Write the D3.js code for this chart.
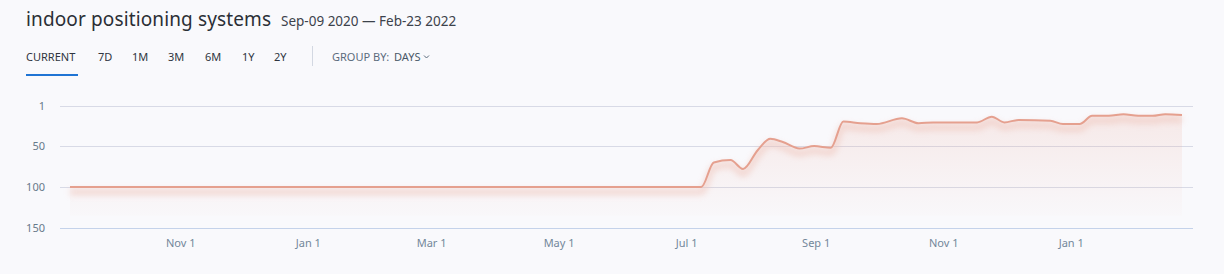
<!DOCTYPE html>
<html>
<head>
<meta charset="utf-8">
<style>
  body {
    margin: 0;
    background: #f9f9fc;
    font-family: "Noto Sans", sans-serif;
  }
  svg { display: block }
</style>
<script type="text/javascript" src="https://d3js.org/d3.v7.min.js"></script>
</head>
<body>
<svg id="chart"></svg>
<script type="text/javascript">
let width = 1224,
    height = 274

let title = 'indoor positioning systems'
let dateRange = 'Sep-09 2020 \u2014 Feb-23 2022'
let tabs = ['CURRENT', '7D', '1M', '3M', '6M', '1Y', '2Y']

// rank position per day (lower = better)
let dates = ['2020-09-09', '2021-07-08', '2021-07-14', '2021-07-22', '2021-07-28', '2021-08-04',
  '2021-08-10', '2021-08-16', '2021-08-24', '2021-08-31', '2021-09-08', '2021-09-14',
  '2021-09-22', '2021-09-30', '2021-10-12', '2021-10-20', '2021-10-27', '2021-11-17',
  '2021-11-24', '2021-11-30', '2021-12-07', '2021-12-22', '2021-12-28', '2022-01-05',
  '2022-01-11', '2022-01-19', '2022-01-26', '2022-02-02', '2022-02-09', '2022-02-15',
  '2022-02-23']
let positions = [100, 100, 70, 67, 78, 55,
  41, 45, 53, 50, 52, 20,
  22, 23, 16, 22, 21, 21,
  14, 21, 18, 19, 23, 23,
  13, 13, 11, 13, 13, 11,
  12]
let yTicks = [1, 50, 100, 150]
let xTicks = ['2020-11-01', '2021-01-01', '2021-03-01', '2021-05-01', '2021-07-01',
  '2021-09-01', '2021-11-01', '2022-01-01']

let parse = d3.timeParse('%Y-%m-%d')
let data = dates.map(function(d, i) { return { date: parse(d), pos: positions[i] } })

let svg = d3.select('#chart')
    .attr('width', width)
    .attr('height', height)

// header
svg.append('text')
   .attr('x', 26).attr('y', 26)
   .attr('font-size', 19)
   .attr('textLength', 245)
   .attr('fill', '#2b2f36')
   .text(title)

svg.append('text')
   .attr('x', 281).attr('y', 26)
   .attr('font-size', 13.5)
   .attr('fill', '#3c424b')
   .text(dateRange)

let tabX = [26, 98, 132, 168, 205, 242, 274]
svg.selectAll('.tab')
   .data(tabs)
   .enter()
   .append('text')
   .attr('class', 'tab')
   .attr('x', function(d, i) { return tabX[i] })
   .attr('y', 61)
   .attr('font-size', 11)
   .attr('fill', '#2f3540')
   .text(function(d) { return d })

svg.append('rect')
   .attr('x', 26).attr('y', 74)
   .attr('width', 52).attr('height', 2)
   .attr('fill', '#1f74d4')

svg.append('line')
   .attr('x1', 312.5).attr('x2', 312.5)
   .attr('y1', 46).attr('y2', 66)
   .attr('stroke', '#d3d8e2')

svg.append('text')
   .attr('x', 332).attr('y', 61)
   .attr('font-size', 11)
   .attr('fill', '#5b6b7c')
   .text('GROUP BY:')

svg.append('text')
   .attr('x', 394).attr('y', 61)
   .attr('font-size', 11)
   .attr('fill', '#4a5868')
   .text('DAYS')

svg.append('path')
   .attr('d', 'M424,55.5 l2.5,2.5 l2.5,-2.5')
   .attr('fill', 'none')
   .attr('stroke', '#5b6b7c')
   .attr('stroke-width', 1)

// scales
let x = d3.scaleTime()
    .domain([parse('2020-09-09'), parse('2022-02-23')])
    .range([70, 1182])

let y = d3.scaleLinear()
    .domain([1, 150])
    .range([106, 228])

let defs = svg.append('defs')
let grad = defs.append('linearGradient')
    .attr('id', 'fillGrad')
    .attr('x1', 0).attr('y1', 0).attr('x2', 0).attr('y2', 1)
grad.append('stop').attr('offset', '0%').attr('stop-color', '#e9a898').attr('stop-opacity', 0.2)
grad.append('stop').attr('offset', '100%').attr('stop-color', '#e9a898').attr('stop-opacity', 0.02)

defs.append('filter')
    .attr('id', 'blur')
    .attr('x', '-5%').attr('y', '-50%').attr('width', '110%').attr('height', '200%')
    .append('feGaussianBlur')
    .attr('stdDeviation', 3)

// grid
svg.append('g')
   .selectAll('line')
   .data(yTicks.slice(0, 3))
   .enter()
   .append('line')
   .attr('x1', 60).attr('x2', 1193)
   .attr('y1', function(d) { return Math.round(y(d)) + 0.5 })
   .attr('y2', function(d) { return Math.round(y(d)) + 0.5 })
   .attr('stroke', '#d8dae6')

svg.append('line')
   .attr('x1', 60).attr('x2', 1193)
   .attr('y1', 228.5).attr('y2', 228.5)
   .attr('stroke', '#c4d2ea')

svg.selectAll('.ylab')
   .data(yTicks)
   .enter()
   .append('text')
   .attr('class', 'ylab')
   .attr('x', 45)
   .attr('y', function(d) { return y(d) + 4 })
   .attr('text-anchor', 'end')
   .attr('font-size', 11)
   .attr('fill', '#687a8b')
   .text(function(d) { return d })

let xFmt = d3.timeFormat('%b %-d')
svg.selectAll('.xlab')
   .data(xTicks.map(parse))
   .enter()
   .append('text')
   .attr('class', 'xlab')
   .attr('x', function(d) { return x(d) })
   .attr('y', 247)
   .attr('text-anchor', 'middle')
   .attr('font-size', 11)
   .attr('fill', '#73879a')
   .text(function(d) { return xFmt(d) })

// series
let curve = d3.curveMonotoneX

let area = d3.area()
    .x(function(d) { return x(d.date) })
    .y0(y(135))
    .y1(function(d) { return y(d.pos) })
    .curve(curve)

let line = d3.line()
    .x(function(d) { return x(d.date) })
    .y(function(d) { return y(d.pos) })
    .curve(curve)

svg.append('path')
   .datum(data)
   .attr('d', area)
   .attr('fill', 'url(#fillGrad)')

svg.append('path')
   .datum(data)
   .attr('d', line)
   .attr('fill', 'none')
   .attr('stroke', '#efc4ba')
   .attr('stroke-width', 5)
   .attr('opacity', 0.7)
   .attr('transform', 'translate(0,5)')
   .attr('filter', 'url(#blur)')

svg.append('path')
   .datum(data)
   .attr('d', line)
   .attr('fill', 'none')
   .attr('stroke', '#e5a08f')
   .attr('stroke-width', 2)
</script>
</body>
</html>
